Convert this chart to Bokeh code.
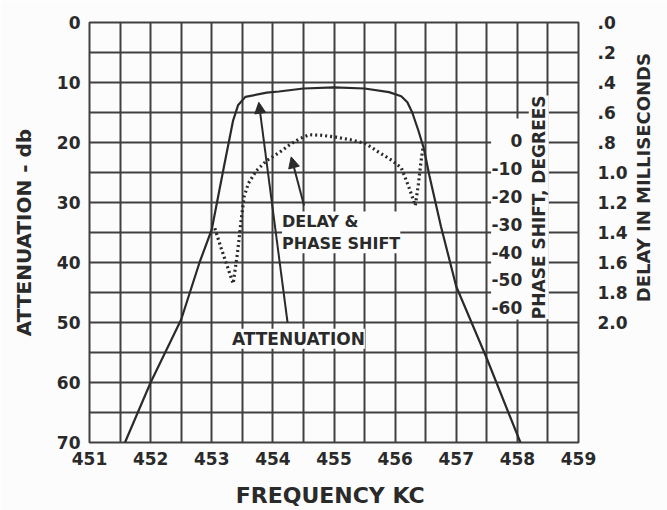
import numpy as np
from bokeh.plotting import figure
from bokeh.models import Range1d, LinearAxis, FixedTicker, Label, Arrow, NormalHead
from bokeh.core.properties import value
from bokeh.embed import file_html
from bokeh.resources import INLINE

# Attenuation of the 455 kc filter: frequency (kc) and attenuation (db)
atten_freq = [451.58, 452.0, 452.5, 452.8, 453.0, 453.2, 453.35, 453.43, 453.55, 453.9, 454.1,
              454.5, 455.0, 455.5, 455.9, 456.1, 456.2, 456.28, 456.38, 456.47, 456.56,
              456.75, 457.0, 457.5, 458.05]
atten_db = [70.0, 60.0, 49.5, 40.0, 34.5, 24.0, 16.3, 13.8, 12.4, 11.7, 11.5,
            11.0, 10.8, 11.0, 11.6, 12.3, 13.3, 15.0, 18.0, 21.0, 25.5,
            34.0, 44.0, 56.0, 70.0]

# Delay / phase shift curve, plotted against the attenuation scale
delay_freq = [453.05, 453.15, 453.25, 453.35, 453.42, 453.48, 453.53, 453.6, 453.73, 453.9,
              454.1, 454.3, 454.45, 454.6, 454.8, 455.03, 455.3, 455.52, 455.73, 455.95,
              456.1, 456.22, 456.33, 456.38, 456.42, 456.46]
delay_db = [34.3, 37.5, 40.5, 43.5, 38.5, 33.0, 29.0, 26.8, 24.7, 23.0,
            21.7, 20.2, 19.3, 18.7, 18.8, 19.1, 19.6, 20.2, 21.6, 23.0,
            24.2, 27.3, 30.5, 27.0, 23.5, 20.5]

freq_ticks = [451, 452, 453, 454, 455, 456, 457, 458, 459]
atten_ticks = [0, 10, 20, 30, 40, 50, 60, 70]
delay_ms = [0.0, 0.2, 0.4, 0.6, 0.8, 1.0, 1.2, 1.4, 1.6, 1.8, 2.0]
delay_labels = [".0", ".2", ".4", ".6", ".8", "1.0", "1.2", "1.4", "1.6", "1.8", "2.0"]
phase_deg = [0, -10, -20, -30, -40, -50, -60]

# scale relations between the auxiliary scales and the db scale
DB_PER_MS = 25.0
PHASE_ZERO_DB = 19.7
DB_PER_DEG = 0.464
DB_MAX = 70.0
DELAY_TITLE_DB = 33.3  # where the delay-scale title is anchored

INK = "#2a2a2a"
GRID = "#404040"
PAPER = "#fcfcfc"
FONT = value("DejaVu Sans")

p = figure(width=667, height=510, x_range=Range1d(451, 459), y_range=Range1d(DB_MAX, 0),
           output_backend="svg", toolbar_location=None,
           min_border_left=89, min_border_right=86, min_border_top=22, min_border_bottom=68,
           background_fill_color=PAPER, border_fill_color=PAPER,
           outline_line_color=GRID, outline_line_width=2)

# delay scale in milliseconds, tied to the db scale
p.extra_y_ranges = {"delay": Range1d(DB_MAX / DB_PER_MS, 0)}

# fine grid: half-kc columns and 5 db rows
p.xgrid.ticker = FixedTicker(ticks=list(np.arange(451, 459.01, 0.5)))
p.ygrid.ticker = FixedTicker(ticks=list(np.arange(0, 70.01, 5)))
for g in (p.xgrid, p.ygrid):
    g.grid_line_color = GRID
    g.grid_line_width = 2
    g.grid_line_alpha = 1.0


def style_axis(ax, size="17px"):
    ax.axis_line_color = None
    ax.major_tick_line_color = None
    ax.minor_tick_line_color = None
    ax.major_tick_out = 0
    ax.major_tick_in = 0
    ax.major_label_text_font = "DejaVu Sans"
    ax.major_label_text_font_style = "bold"
    ax.major_label_text_font_size = size
    ax.major_label_text_color = INK
    ax.axis_label_text_font = "DejaVu Sans"
    ax.axis_label_text_font_style = "bold"
    ax.axis_label_text_color = INK


xa = p.xaxis[0]
style_axis(xa)
xa.ticker = FixedTicker(ticks=freq_ticks)
xa.major_label_standoff = 9
xa.axis_label = "FREQUENCY  KC"
xa.axis_label_text_font_size = "22px"
xa.axis_label_standoff = 15

ya = p.yaxis[0]
style_axis(ya)
ya.ticker = FixedTicker(ticks=atten_ticks)
ya.major_label_standoff = 9
ya.axis_label = "ATTENUATION - db"
ya.axis_label_text_font_size = "20px"
ya.axis_label_standoff = 18

# right-hand delay scale
ra = LinearAxis(y_range_name="delay", ticker=FixedTicker(ticks=delay_ms),
                major_label_overrides={d: lab for d, lab in zip(delay_ms, delay_labels)})
style_axis(ra)
ra.major_label_standoff = 19
p.add_layout(ra, "right")

# title of the delay scale, written upward
ta = LinearAxis(ticker=FixedTicker(ticks=[DELAY_TITLE_DB]),
                major_label_overrides={DELAY_TITLE_DB: "DELAY  IN  MILLISECONDS"},
                major_label_orientation=np.pi / 2)
style_axis(ta, size="18px")
ta.major_label_standoff = 13
p.add_layout(ta, "right")

# white panel carrying the phase-shift scale
p.quad(left=[457.57], right=[458.47], top=[16.0], bottom=[49.5],
       fill_color=PAPER, line_color=None)

phase_y = [PHASE_ZERO_DB - d * DB_PER_DEG for d in phase_deg]
p.text(x=[458.08] * len(phase_deg), y=phase_y, text=[str(d) for d in phase_deg],
       text_align="right", text_baseline="middle", text_font=FONT,
       text_font_style="bold", text_font_size="17px", text_color=INK)

# curves
p.line(atten_freq, atten_db, line_color=INK, line_width=2.2)
p.line(delay_freq, delay_db, line_color=INK, line_width=3.2, line_dash="2 3")

# callout arrows
for xs, ys, xe, ye in [(454.24, 50.0, 453.77, 13.3), (454.51, 30.5, 454.30, 22.4)]:
    p.add_layout(Arrow(x_start=xs, y_start=ys, x_end=xe, y_end=ye,
                       line_color=INK, line_width=2,
                       end=NormalHead(size=11, fill_color=INK, line_color=INK, line_width=1)))

lab_style = dict(text_font="DejaVu Sans", text_font_style="bold", text_color=INK,
                 background_fill_color=PAPER)
p.add_layout(Label(x=453.33, y=52.7, text="ATTENUATION", text_align="left",
                   text_baseline="middle", text_font_size="17px", **lab_style))
p.add_layout(Label(x=454.15, y=31.5, text="DELAY &\nPHASE SHIFT", text_align="left",
                   text_baseline="top", text_font_size="16px", **lab_style))
p.add_layout(Label(x=458.35, y=30.8, text="PHASE SHIFT, DEGREES", angle=np.pi / 2,
                   text_align="center", text_baseline="middle", text_font_size="17px",
                   **lab_style))

open("out.html", "w").write(file_html(p, INLINE))
